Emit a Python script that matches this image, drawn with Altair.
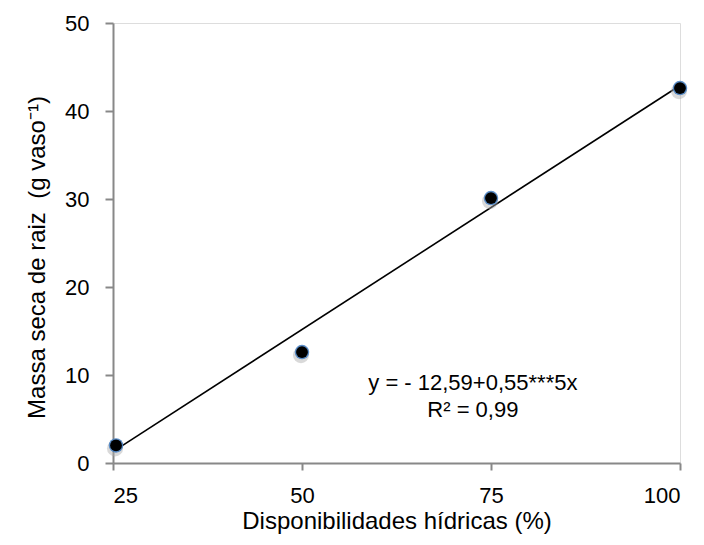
import altair as alt
import pandas as pd

x_vals = [25.4, 50, 75, 100]
y_vals = [2.0, 12.6, 30.1, 42.6]
line_x = [25, 100]
line_y = [1.3, 42.9]
eq_lines = ["y = - 12,59+0,55***5x", "R² = 0,99"]
eq_x = [72.6, 72.6]
eq_y = [9.1, 6.0]

pts = pd.DataFrame({"x": x_vals, "y": y_vals})
ln = pd.DataFrame({"x": line_x, "y": line_y})
txt = pd.DataFrame({"x": eq_x, "y": eq_y, "t": eq_lines})

xs = alt.Scale(domain=[25, 100], nice=False, zero=False)
ys = alt.Scale(domain=[0, 50], nice=False)

font = "Liberation Sans"

xax = alt.Axis(values=[25, 50, 75, 100], title="Disponibilidades hídricas (%)",
               grid=False, domainColor="#888888", domainWidth=2, tickColor="#888888",
               tickWidth=2, tickSize=7, labelPadding=15, labelFontSize=22,
               titleFontSize=24, titleFontWeight="normal", titlePadding=3,
               labelColor="black", titleColor="black", labelFont=font, titleFont=font)
yax = alt.Axis(values=[0, 10, 20, 30, 40, 50], title="Massa seca de raiz \u00a0(g vaso⁻¹)",
               grid=False, domainColor="#888888", domainWidth=2, tickColor="#888888",
               tickWidth=2, tickSize=8, labelPadding=16, labelFontSize=22,
               titleFontSize=24, titleFontWeight="normal", titlePadding=15,
               titleY=234, titleAlign="center",
               labelColor="black", titleColor="black", labelFont=font, titleFont=font)

line = alt.Chart(ln).mark_line(color="black", strokeWidth=1.6).encode(
    x=alt.X("x:Q", scale=xs, axis=xax), y=alt.Y("y:Q", scale=ys, axis=yax))

shadow = alt.Chart(pts).mark_circle(color="#aaaaaa", opacity=0.45, size=260, yOffset=3, xOffset=-1).encode(
    x=alt.X("x:Q", scale=xs), y=alt.Y("y:Q", scale=ys))
halo = alt.Chart(pts).mark_circle(color="#4a82c2", opacity=0.9, size=210).encode(
    x=alt.X("x:Q", scale=xs), y=alt.Y("y:Q", scale=ys))
dots = alt.Chart(pts).mark_circle(color="black", opacity=1, size=140).encode(
    x=alt.X("x:Q", scale=xs), y=alt.Y("y:Q", scale=ys))

text = alt.Chart(txt).mark_text(fontSize=22, font=font, color="black", align="center").encode(
    x=alt.X("x:Q", scale=xs), y=alt.Y("y:Q", scale=ys), text="t:N")

chart = alt.layer(line, shadow, halo, dots, text).properties(
    width=567, height=440,
    autosize=alt.AutoSizeParams(type="none"),
    padding={"left": 105, "top": 15, "right": 16, "bottom": 74},
).configure_view(stroke=None).configure(background="white")

chart.save("out.html", embed_options={"renderer": "svg", "actions": False})
